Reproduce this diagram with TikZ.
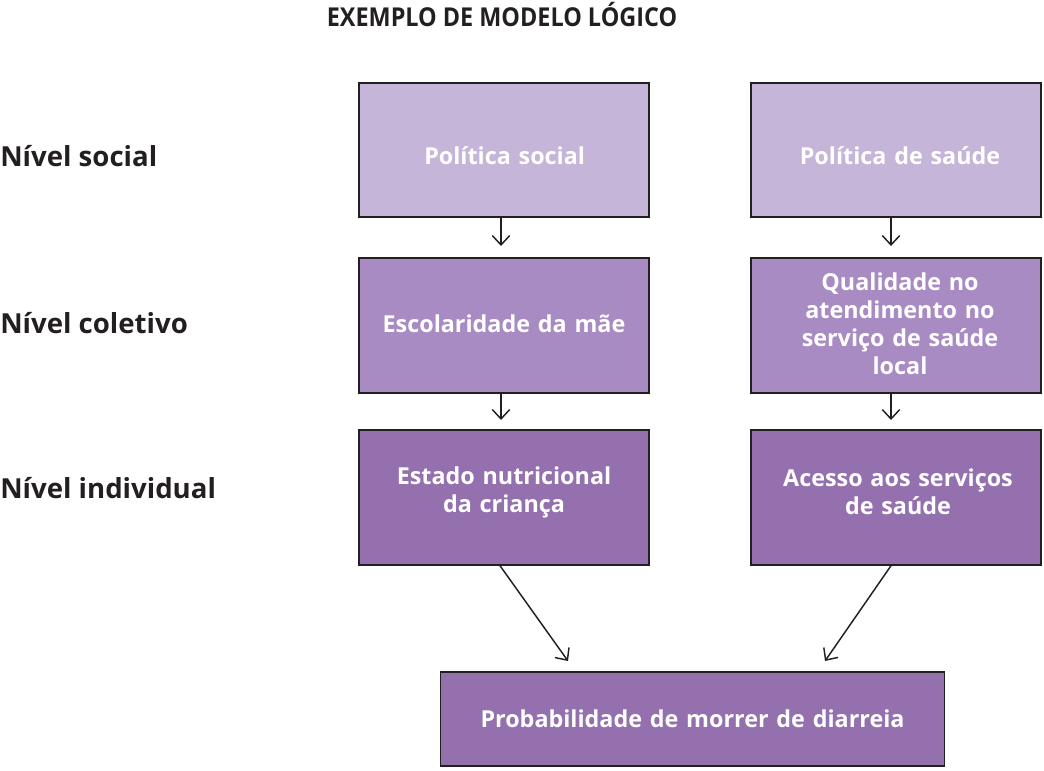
\documentclass[tikz,border=0pt]{standalone}
\usepackage{fontspec}
\setmainfont{Open Sans}
\newfontfamily\condfont[FakeStretch=0.9]{Open Sans}
\usetikzlibrary{arrows.meta}
\definecolor{lightp}{HTML}{C5B5D8}
\definecolor{midp}{HTML}{A98BC3}
\definecolor{darkp}{HTML}{9470AF}
\definecolor{edge}{HTML}{231F20}
\tikzset{
  box/.style={draw=edge, line width=1.3pt, minimum width=217pt, minimum height=101pt, inner sep=0pt},
  txt/.style={text=white, font=\fontsize{17.5}{21}\selectfont\bfseries, align=center, text width=200pt, inner sep=0pt},
  conn/.style={draw=edge, line width=1.1pt, -{Straight Barb[length=7pt,width=13pt,line width=1.1pt]}},
  lvl/.style={font=\fontsize{20.7}{22}\selectfont\bfseries, text=edge, anchor=west, inner sep=0pt}
}
\begin{document}
\begin{tikzpicture}[x=0.75pt,y=-0.75pt]
\useasboundingbox (0,0) rectangle (1044,770);
\node[font=\condfont\fontsize{19.5}{20}\selectfont\bfseries, text=edge] (title) at (502,15) {EXEMPLO DE MODELO LÓGICO};
\node[lvl] (l1) at (0,156) {Nível social};
\node[lvl] (l2) at (0,323) {Nível coletivo};
\node[lvl] (l3) at (0,488) {Nível individual};

\node[box, fill=lightp, label={[txt, yshift=-4.5pt, xshift=0.5pt]center:Política social}] (ps) at (504,150) {};
\node[box, fill=lightp, label={[txt, yshift=-4.5pt, xshift=3pt]center:Política de saúde}] (pds) at (896,150) {};
\node[box, fill=midp, label={[txt, yshift=1.5pt]center:Escolaridade da mãe}] (esc) at (504,325.5) {};
\node[box, fill=midp, label={[txt, yshift=1pt, xshift=3pt]center:Qualidade no\\atendimento no\\serviço de saúde\\local}] (qual) at (896,325.5) {};
\node[box, fill=darkp, label={[txt, yshift=4pt]center:Estado nutricional\\da criança}] (est) at (504,497.5) {};
\node[box, fill=darkp, label={[txt, yshift=4pt, xshift=1.5pt]center:Acesso aos serviços\\de saúde}] (ace) at (896,497.5) {};
\node[box, fill=darkp, minimum width=378pt, minimum height=70pt, label={[txt, text width=370pt, yshift=0.5pt]center:Probabilidade de morrer de diarreia}] (prob) at (692.5,719) {};

\coordinate (a1) at (501,246);
\coordinate (a2) at (891,246);
\coordinate (a3) at (501,420);
\coordinate (a4) at (891,420);
\coordinate (a5) at (568,661);
\coordinate (a6) at (825,661);
\draw[conn] (ps.south -| a1) -- (a1);
\draw[conn] (pds.south -| a2) -- (a2);
\draw[conn] (esc.south -| a3) -- (a3);
\draw[conn] (qual.south -| a4) -- (a4);
\draw[conn] (est.south -| 500,0) -- (a5);
\draw[conn] (ace.south -| 891,0) -- (a6);
\end{tikzpicture}
\end{document}
